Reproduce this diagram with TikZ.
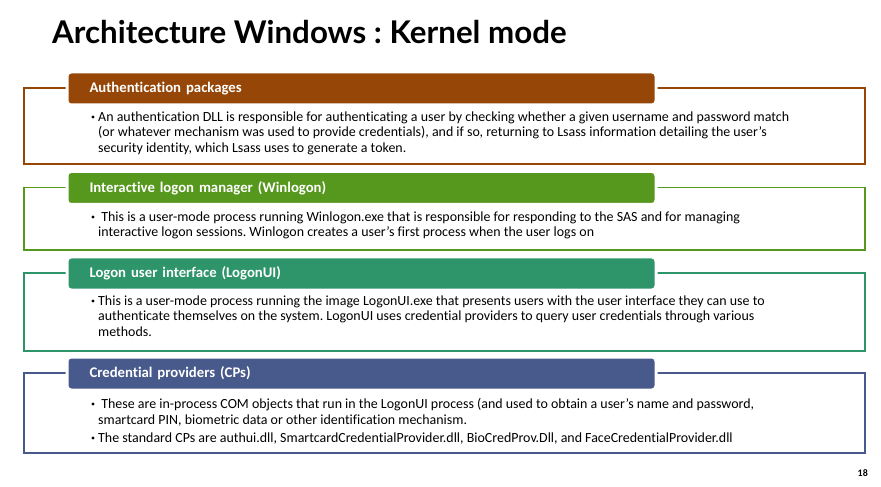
\documentclass[tikz,border=0pt]{standalone}
\usepackage{fontspec}
\setmainfont{Carlito}[Ligatures=NoCommon]
\newfontfamily\titlefont{Lato}
\usetikzlibrary{positioning}
\frenchspacing

\definecolor{authbrown}{RGB}{150,71,8}
\definecolor{winlogongreen}{RGB}{86,151,30}
\definecolor{logonteal}{RGB}{46,148,106}
\definecolor{cpblue}{RGB}{72,89,140}

\tikzset{
  frame/.style={draw=#1, line width=1.6bp},
  header/.style={fill=#1, draw=white, line width=3bp, rounded corners=4bp,
    anchor=north west, minimum width=589bp, minimum height=33bp,
    text width=544bp, align=left, inner xsep=22.5bp, text=white,
    font=\bfseries\fontsize{14.8}{16}\selectfont},
  bodytext/.style={anchor=north west, align=left, inner sep=0pt,
    font=\fontsize{14}{15.6}\selectfont},
  bullet/.style={circle, fill=black, inner sep=0pt, minimum size=3.2bp},
}

\begin{document}
\begin{tikzpicture}[x=1bp,y=-1bp]
        \def\frameLeft{24}
        \def\frameRight{865}
        \def\headerLeft{65.5}
        \def\bulletX{93}
        \def\textX{98}

        \useasboundingbox[fill=white] (0,0) rectangle (881,487);

        \node[anchor=base west, inner sep=0pt, font=\titlefont\bfseries\fontsize{31.4}{36}\selectfont] (title) at (52,44) {Architecture Windows : Kernel mode};

        % Frames and headers
        \foreach \i\top\bottom\col\name in {1/88/164/authbrown/Authentication packages,
            2/187.5/250/winlogongreen/Interactive logon manager (Winlogon),
            3/273/351/logonteal/Logon user interface (LogonUI),
            4/373/453/cpblue/Credential providers (CPs)} {
                \draw[frame=\col] (\frameLeft,\top) rectangle (\frameRight,\bottom);
                \node[header=\col] (head\i) at (\headerLeft,\top-17.5) {\name};
            }

        % Bullet texts
        \node[bodytext] (body1) at (\textX,111.5) {An authentication DLL is responsible for authenticating a user by checking whether a given username and password match\\(or whatever mechanism was used to provide credentials), and if so, returning to Lsass information detailing the user’s\\security identity, which Lsass uses to generate a token.};
        \node[bodytext] (body2) at (\textX,211.5) {\ This is a user-mode process running Winlogon.exe that is responsible for responding to the SAS and for managing\\interactive logon sessions. Winlogon creates a user’s first process when the user logs on};
        \node[bodytext] (body3) at (\textX,295.5) {This is a user-mode process running the image LogonUI.exe that presents users with the user interface they can use to\\authenticate themselves on the system. LogonUI uses credential providers to query user credentials through various\\methods.};
        \node[bodytext] (body4) at (\textX,398.5) {\ These are in-process COM objects that run in the LogonUI process (and used to obtain a user’s name and password,\\smartcard PIN, biometric data or other identification mechanism.};
        \node[bodytext] (body5) at (\textX,432.5) {The standard CPs are authui.dll, SmartcardCredentialProvider.dll, BioCredProv.Dll, and FaceCredentialProvider.dll};

        \foreach \y\n in {117/1,217/2,301/3,404/4,438/5} {
                \node[bullet] (dot\n) at (\bulletX,\y) {};
            }

        \node[anchor=base east, inner sep=0pt, font=\bfseries\fontsize{10}{11}\selectfont] (page) at (868,476) {18};
    \end{tikzpicture}
\end{document}
